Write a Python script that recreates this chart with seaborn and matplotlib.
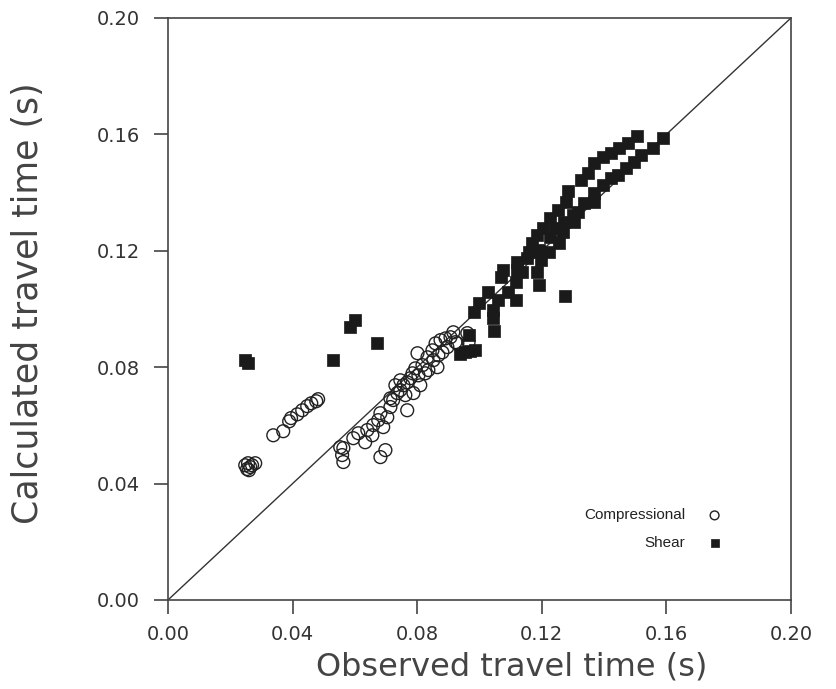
import matplotlib
matplotlib.use("Agg")
import matplotlib.pyplot as plt
import seaborn as sns
import pandas as pd

# Compressional (open circles)
comp_obs = [0.0248, 0.0257, 0.0264, 0.0254, 0.0270, 0.0280, 0.0260,
            0.0338, 0.0370, 0.0389, 0.0395, 0.0415, 0.0431, 0.0447, 0.0460, 0.0476, 0.0482,
            0.0563, 0.0559, 0.0563, 0.0553, 0.0595, 0.0611, 0.0633, 0.0640, 0.0656, 0.0659,
            0.0675, 0.0682, 0.0682, 0.0698, 0.0691, 0.0704, 0.0714, 0.0714, 0.0723, 0.0736,
            0.0746, 0.0756, 0.0768, 0.0768, 0.0778, 0.0785, 0.0788, 0.0794, 0.0801, 0.0804,
            0.0817, 0.0826, 0.0833, 0.0849, 0.0852, 0.0859, 0.0865, 0.0875, 0.0881, 0.0891,
            0.0897, 0.0907, 0.0916, 0.0923, 0.0929, 0.0961, 0.0965,
            0.0730, 0.0746, 0.0762, 0.0810, 0.0836, 0.0868]
comp_calc = [0.0463, 0.0470, 0.0457, 0.0450, 0.0463, 0.0470, 0.0446,
             0.0566, 0.0580, 0.0614, 0.0625, 0.0638, 0.0652, 0.0666, 0.0676, 0.0683, 0.0690,
             0.0474, 0.0498, 0.0522, 0.0525, 0.0556, 0.0573, 0.0542, 0.0584, 0.0566, 0.0601,
             0.0618, 0.0642, 0.0491, 0.0515, 0.0594, 0.0628, 0.0663, 0.0693, 0.0687, 0.0711,
             0.0721, 0.0738, 0.0652, 0.0748, 0.0762, 0.0779, 0.0711, 0.0796, 0.0848, 0.0772,
             0.0807, 0.0779, 0.0834, 0.0858, 0.0824, 0.0882, 0.0800, 0.0893, 0.0851, 0.0899,
             0.0869, 0.0903, 0.0920, 0.0886, 0.0882, 0.0917, 0.0886,
             0.0738, 0.0755, 0.0704, 0.0738, 0.0790, 0.0841]

# Shear (filled squares)
shear_obs = [0.0248, 0.0257, 0.0531, 0.0585, 0.0601, 0.0672,
             0.0939, 0.0955, 0.0971, 0.0987, 0.0981, 0.0965,
             0.0997, 0.1026, 0.1045, 0.1045, 0.1048, 0.1061,
             0.1068, 0.1077, 0.1093, 0.1116, 0.1116, 0.1122,
             0.1122, 0.1138, 0.1154, 0.1158, 0.1170, 0.1186,
             0.1186, 0.1190, 0.1190, 0.1196, 0.1203, 0.1222,
             0.1228, 0.1228, 0.1244, 0.1251, 0.1254, 0.1267,
             0.1270, 0.1273, 0.1277, 0.1283, 0.1299, 0.1302,
             0.1315, 0.1325, 0.1334, 0.1347, 0.1367, 0.1367,
             0.1367, 0.1395, 0.1395, 0.1421, 0.1421, 0.1444,
             0.1447, 0.1469, 0.1476, 0.1495, 0.1505, 0.1518,
             0.1556, 0.1588]
shear_calc = [0.0824, 0.0814, 0.0824, 0.0937, 0.0961, 0.0882,
              0.0845, 0.0851, 0.0855, 0.0858, 0.0989, 0.0910,
              0.1020, 0.1057, 0.0996, 0.0968, 0.0923, 0.1030,
              0.1109, 0.1133, 0.1057, 0.1030, 0.1092, 0.1160,
              0.1133, 0.1126, 0.1174, 0.1195, 0.1226, 0.1253,
              0.1126, 0.1202, 0.1081, 0.1167, 0.1280, 0.1195,
              0.1311, 0.1246, 0.1277, 0.1339, 0.1226, 0.1263,
              0.1298, 0.1044, 0.1366, 0.1407, 0.1322, 0.1298,
              0.1332, 0.1442, 0.1363, 0.1469, 0.1500, 0.1397,
              0.1366, 0.1521, 0.1425, 0.1535, 0.1449, 0.1459,
              0.1552, 0.1483, 0.1572, 0.1504, 0.1596, 0.1528,
              0.1552, 0.1586]

ticks = [0.00, 0.04, 0.08, 0.12, 0.16, 0.20]
tick_labels = ["0.00", "0.04", "0.08", "0.12", "0.16", "0.20"]

sns.set_style("ticks")
plt.rcParams['font.family'] = ['DejaVu Sans']

fig = plt.figure(figsize=(8.37, 6.89), dpi=100)
ax = fig.add_axes([0.2007, 0.1292, 0.7443, 0.8447])

df_c = pd.DataFrame({"obs": comp_obs, "calc": comp_calc})
df_s = pd.DataFrame({"obs": shear_obs, "calc": shear_calc})

ax.axline((0, 0), slope=1, color="#333333", lw=1.0, zorder=1)

sns.scatterplot(data=df_c, x="obs", y="calc", ax=ax, marker="o", s=85,
                facecolor="none", edgecolor="#222222", linewidth=1.0,
                label="Compressional", zorder=3)
sns.scatterplot(data=df_s, x="obs", y="calc", ax=ax, marker="s", s=64,
                color="#1a1a1a", edgecolor="#1a1a1a", linewidth=0.5,
                label="Shear", zorder=4)

ax.set_xlim(0, 0.2)
ax.set_ylim(0, 0.2)
ax.set_xticks(ticks)
ax.set_xticklabels(tick_labels)
ax.set_yticks(ticks)
ax.set_yticklabels(tick_labels)
ax.tick_params(direction="out", length=10, width=1.2, color="#444444",
               labelsize=14, labelcolor="#333333")
ax.tick_params(axis="x", pad=8)
ax.tick_params(axis="y", pad=10)
for sp in ax.spines.values():
    sp.set_visible(True)
    sp.set_linewidth(1.2)
    sp.set_color("#444444")

ax.set_xlabel("Observed travel time (s)", fontsize=23, color="#444444")
ax.set_ylabel("Calculated travel time (s)", fontsize=25, color="#444444")
ax.xaxis.set_label_coords(0.552, -0.088)
ax.yaxis.set_label_coords(-0.198, 0.51)

leg = ax.legend(loc="lower right", bbox_to_anchor=(0.924, 0.062), frameon=False,
                markerfirst=False, handletextpad=0.9, labelspacing=0.9,
                prop={"family": "Liberation Sans", "size": 11})
for h in leg.legend_handles:
    h.set_sizes([40])
for t in leg.get_texts():
    t.set_color("#222222")

fig.savefig("out.png", dpi=100)
